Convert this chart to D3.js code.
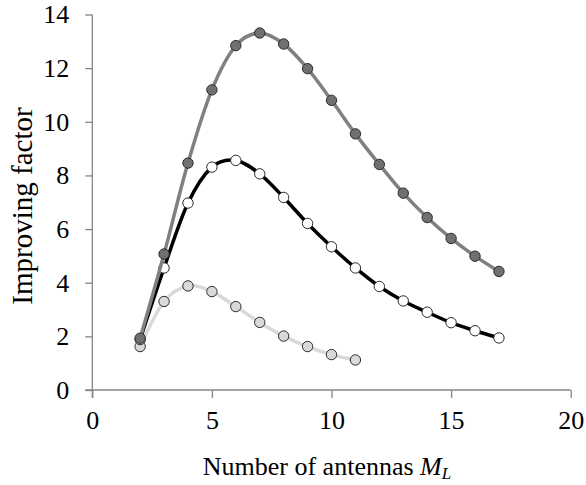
<!DOCTYPE html>
<html>
<head>
<meta charset="utf-8">
<script src="https://cdn.jsdelivr.net/npm/d3@7"></script>
<style>
  body { margin: 0; background: #fff; }
  svg text { font-family: "Liberation Serif", "Times New Roman", serif; fill: #000; }
  .axis path, .axis line { stroke: #868686; stroke-width: 1.3; }
</style>
</head>
<body>
<svg id="chart" width="586" height="485"></svg>
<script>
var antennasA = [2, 3, 4, 5, 6, 7, 8, 9, 10, 11, 12, 13, 14, 15, 16, 17],
    factorDark = [1.93, 5.07, 8.46, 11.19, 12.84, 13.31, 12.9, 11.98, 10.8, 9.55, 8.41, 7.34, 6.43, 5.65, 4.99, 4.42],
    factorBlack = [1.88, 4.55, 6.97, 8.31, 8.56, 8.06, 7.18, 6.21, 5.34, 4.55, 3.86, 3.32, 2.9, 2.51, 2.21, 1.94],
    antennasB = [2, 3, 4, 5, 6, 7, 8, 9, 10, 11],
    factorLight = [1.62, 3.3, 3.88, 3.67, 3.11, 2.52, 2.01, 1.62, 1.32, 1.12],
    xTicks = [0, 5, 10, 15, 20],
    yTicks = [0, 2, 4, 6, 8, 10, 12, 14];

var svg = d3.select("#chart"),
    MARGINS = { top: 14.5, right: 15.3, bottom: 95, left: 92.3 },
    WIDTH = 586,
    HEIGHT = 485,
    FONT = "'Liberation Serif', 'Times New Roman', serif";

var xScale = d3.scaleLinear().domain([0, 20]).range([MARGINS.left, WIDTH - MARGINS.right]);
var yScale = d3.scaleLinear().domain([0, 14]).range([HEIGHT - MARGINS.bottom, MARGINS.top]);

var xAxis = d3.axisBottom(xScale).tickValues(xTicks).tickSize(8).tickPadding(13);
var yAxis = d3.axisLeft(yScale).tickValues(yTicks).tickSize(7).tickPadding(16);

var gx = svg.append("g")
    .attr("class", "axis")
    .attr("transform", "translate(0," + yScale(0) + ")")
    .call(xAxis)
    .attr("font-family", FONT)
    .attr("font-size", 26);
gx.select(".domain").attr("d", "M" + (xScale(0) - 7) + ",0H" + xScale(20));

var gy = svg.append("g")
    .attr("class", "axis")
    .attr("transform", "translate(" + xScale(0) + ",0)")
    .call(yAxis)
    .attr("font-family", FONT)
    .attr("font-size", 26);
gy.select(".domain").attr("d", "M0," + yScale(14) + "V" + (yScale(0) + 8));

// axis titles
var xt = svg.append("text")
    .attr("x", 327)
    .attr("y", 475)
    .attr("text-anchor", "middle")
    .attr("font-family", FONT)
    .attr("font-size", 26);
xt.append("tspan").text("Number of antennas ");
xt.append("tspan").attr("font-style", "italic").text("M");
xt.append("tspan").attr("font-style", "italic").attr("font-size", 17).attr("dy", 4).text("L");

svg.append("text")
    .attr("transform", "translate(32,206) rotate(-90)")
    .attr("text-anchor", "middle")
    .attr("font-family", FONT)
    .attr("font-size", 29)
    .text("Improving factor");

var series = [
  { xs: antennasB, ys: factorLight, line: "#d9d9d9", width: 3.5, fill: "#d9d9d9" },
  { xs: antennasA, ys: factorBlack, line: "#000000", width: 3.5, fill: "#ffffff" },
  { xs: antennasA, ys: factorDark, line: "#808080", width: 3.5, fill: "#707070" }
];

var lineGen = d3.line()
    .x(function(d) { return xScale(d[0]); })
    .y(function(d) { return yScale(d[1]); })
    .curve(d3.curveCardinal.tension(0));

series.forEach(function(s) {
  var pts = s.xs.map(function(x, i) { return [x, s.ys[i]]; });
  svg.append("path")
      .attr("d", lineGen(pts))
      .attr("fill", "none")
      .attr("stroke", s.line)
      .attr("stroke-width", s.width)
      .attr("stroke-linejoin", "round");
  svg.append("g").selectAll("circle")
      .data(pts)
      .enter().append("circle")
      .attr("cx", function(d) { return xScale(d[0]); })
      .attr("cy", function(d) { return yScale(d[1]); })
      .attr("r", 5.2)
      .attr("fill", s.fill)
      .attr("stroke", "#2b2b2b")
      .attr("stroke-width", 1);
});
</script>
</body>
</html>
